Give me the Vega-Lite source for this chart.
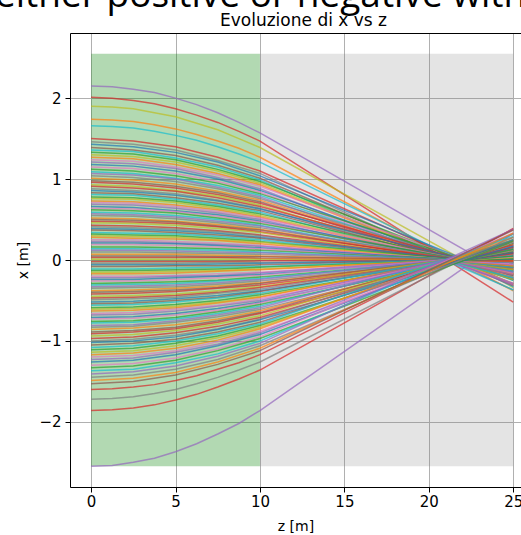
{
"$schema": "https://vega.github.io/schema/vega-lite/v6.json",
"autosize": "none",
"padding": {"left": 70, "top": 33, "right": 0, "bottom": 48},
"width": 451,
"height": 454,
"title": {"text": "either positive or negative with...", "anchor": "start", "frame": "group", "font": "Open Sans", "fontSize": 37, "fontWeight": "normal", "color": "#000000", "dx": -75, "dy": 33, "baseline": "alphabetic", "offset": 0},
"config": {
  "view": {"stroke": null},
  "title": {"color": "#000000"},
  "axis": {"labelFont": "DejaVu Sans", "labelFontSize": 15, "labelColor": "black", "tickColor": "black", "tickSize": 5, "tickWidth": 1, "domainColor": "black", "domainWidth": 1, "titleFont": "DejaVu Sans", "titleFontSize": 14, "titleFontWeight": "normal", "titleColor": "black", "gridColor": "#b0b0b0", "gridWidth": 1, "labelFlush": false}
},
"resolve": {"axis": {"x": "independent", "y": "independent"}},
"layer": [
  {
    "data": {"values": [{"z1": 0, "z2": 10, "y1": -2.55, "y2": 2.55}]},
    "mark": {"type": "rect", "color": "#008000", "opacity": 0.3},
    "encoding": {
      "x": {"field": "z1", "type": "quantitative", "scale": {"domain": [-1.25, 25.46], "nice": false, "zero": false},
            "axis": {"orient": "bottom", "values": [0, 5, 10, 15, 20, 25], "grid": true, "title": "z [m]", "labelPadding": 2, "titlePadding": 10}},
      "x2": {"field": "z2"},
      "y": {"field": "y1", "type": "quantitative", "scale": {"domain": [-2.805, 2.805], "nice": false, "zero": false}, "axis": null},
      "y2": {"field": "y2"}
    }
  },
  {
    "data": {"values": [{"z1": 10, "z2": 25, "y1": -2.55, "y2": 2.55}]},
    "mark": {"type": "rect", "color": "#808080", "opacity": 0.21},
    "encoding": {
      "x": {"field": "z1", "type": "quantitative", "scale": {"domain": [-1.25, 25.46], "nice": false, "zero": false}, "axis": null},
      "x2": {"field": "z2"},
      "y": {"field": "y1", "type": "quantitative", "scale": {"domain": [-2.805, 2.805], "nice": false, "zero": false}, "axis": null},
      "y2": {"field": "y2"}
    }
  },
  {
    "data": {"values": [
{"i":1,"c":4,"z":[0,1.25,2.5,3.75,5,6.25,7.5,8.75,10,25],"x":[2.15,2.14,2.11,2.07,2.00,1.92,1.82,1.70,1.57,-0.22]},
{"i":2,"c":3,"z":[0,1.25,2.5,3.75,5,6.25,7.5,8.75,10,25],"x":[2.01,2.00,1.97,1.93,1.87,1.79,1.70,1.59,1.47,-0.52]},
{"i":3,"c":8,"z":[0,1.25,2.5,3.75,5,6.25,7.5,8.75,10,25],"x":[1.90,1.89,1.87,1.82,1.77,1.69,1.61,1.50,1.39,-0.34]},
{"i":4,"c":1,"z":[0,1.25,2.5,3.75,5,6.25,7.5,8.75,10,25],"x":[1.74,1.73,1.71,1.67,1.62,1.55,1.47,1.38,1.27,-0.38]},
{"i":5,"c":9,"z":[0,1.25,2.5,3.75,5,6.25,7.5,8.75,10,25],"x":[1.66,1.65,1.63,1.59,1.54,1.48,1.40,1.31,1.21,-0.33]},
{"i":6,"c":4,"z":[0,1.25,2.5,3.75,5,6.25,7.5,8.75,10,25],"x":[-2.55,-2.54,-2.50,-2.45,-2.37,-2.27,-2.15,-2.02,-1.86,0.33]},
{"i":7,"c":3,"z":[0,1.25,2.5,3.75,5,6.25,7.5,8.75,10,25],"x":[-1.86,-1.85,-1.83,-1.79,-1.73,-1.66,-1.57,-1.47,-1.36,0.39]},
{"i":8,"c":7,"z":[0,1.25,2.5,3.75,5,6.25,7.5,8.75,10,25],"x":[-1.72,-1.71,-1.69,-1.65,-1.60,-1.53,-1.45,-1.36,-1.26,0.33]},
{"i":9,"c":3,"z":[0,1.25,2.5,3.75,5,6.25,7.5,8.75,10,25],"x":[-1.60,-1.59,-1.57,-1.54,-1.49,-1.43,-1.35,-1.27,-1.17,0.38]},
{"i":10,"c":3,"z":[0,2.5,5,7.5,10,25],"x":[1.50,1.47,1.40,1.27,1.10,-0.30]},
{"i":11,"c":7,"z":[0,2.5,5,7.5,10,25],"x":[1.46,1.43,1.36,1.23,1.07,-0.37]},
{"i":12,"c":0,"z":[0,2.5,5,7.5,10,25],"x":[1.43,1.40,1.33,1.21,1.04,-0.24]},
{"i":13,"c":5,"z":[0,2.5,5,7.5,10,25],"x":[1.39,1.36,1.29,1.17,1.01,-0.32]},
{"i":14,"c":9,"z":[0,2.5,5,7.5,10,25],"x":[1.36,1.34,1.26,1.15,0.99,-0.37]},
{"i":15,"c":2,"z":[0,2.5,5,7.5,10,25],"x":[1.33,1.31,1.24,1.12,0.97,-0.25]},
{"i":16,"c":8,"z":[0,2.5,5,7.5,10,25],"x":[1.30,1.28,1.21,1.10,0.95,-0.29]},
{"i":17,"c":1,"z":[0,2.5,5,7.5,10,25],"x":[1.27,1.25,1.18,1.07,0.93,-0.30]},
{"i":18,"c":6,"z":[0,2.5,5,7.5,10,25],"x":[1.24,1.22,1.15,1.05,0.91,-0.22]},
{"i":19,"c":4,"z":[0,2.5,5,7.5,10,25],"x":[1.21,1.19,1.13,1.02,0.88,-0.31]},
{"i":20,"c":0,"z":[0,2.5,5,7.5,10,25],"x":[1.18,1.16,1.10,1.00,0.86,-0.24]},
{"i":21,"c":6,"z":[0,2.5,5,7.5,10,25],"x":[1.15,1.13,1.07,0.97,0.84,-0.29]},
{"i":22,"c":2,"z":[0,2.5,5,7.5,10,25],"x":[1.12,1.10,1.04,0.95,0.82,-0.19]},
{"i":23,"c":9,"z":[0,2.5,5,7.5,10,25],"x":[1.09,1.07,1.01,0.92,0.80,-0.25]},
{"i":24,"c":4,"z":[0,2.5,5,7.5,10,25],"x":[1.07,1.05,1.00,0.90,0.78,-0.29]},
{"i":25,"c":7,"z":[0,2.5,5,7.5,10,25],"x":[1.04,1.02,0.97,0.88,0.76,-0.20]},
{"i":26,"c":1,"z":[0,2.5,5,7.5,10,25],"x":[1.01,0.99,0.94,0.85,0.74,-0.22]},
{"i":27,"c":5,"z":[0,2.5,5,7.5,10,25],"x":[0.98,0.96,0.91,0.83,0.72,-0.24]},
{"i":28,"c":3,"z":[0,2.5,5,7.5,10,25],"x":[0.96,0.94,0.89,0.81,0.70,-0.17]},
{"i":29,"c":8,"z":[0,2.5,5,7.5,10,25],"x":[0.93,0.91,0.86,0.79,0.68,-0.24]},
{"i":30,"c":3,"z":[0,2.5,5,7.5,10,25],"x":[0.91,0.89,0.85,0.77,0.66,-0.18]},
{"i":31,"c":7,"z":[0,2.5,5,7.5,10,25],"x":[0.88,0.86,0.82,0.74,0.64,-0.22]},
{"i":32,"c":0,"z":[0,2.5,5,7.5,10,25],"x":[0.86,0.84,0.80,0.73,0.63,-0.15]},
{"i":33,"c":5,"z":[0,2.5,5,7.5,10,25],"x":[0.83,0.82,0.77,0.70,0.61,-0.19]},
{"i":34,"c":9,"z":[0,2.5,5,7.5,10,25],"x":[0.81,0.80,0.75,0.68,0.59,-0.22]},
{"i":35,"c":2,"z":[0,2.5,5,7.5,10,25],"x":[0.78,0.77,0.73,0.66,0.57,-0.15]},
{"i":36,"c":8,"z":[0,2.5,5,7.5,10,25],"x":[0.76,0.75,0.71,0.64,0.55,-0.17]},
{"i":37,"c":1,"z":[0,2.5,5,7.5,10,25],"x":[0.73,0.72,0.68,0.62,0.53,-0.18]},
{"i":38,"c":6,"z":[0,2.5,5,7.5,10,25],"x":[0.71,0.70,0.66,0.60,0.52,-0.13]},
{"i":39,"c":4,"z":[0,2.5,5,7.5,10,25],"x":[0.69,0.68,0.64,0.58,0.50,-0.18]},
{"i":40,"c":0,"z":[0,2.5,5,7.5,10,25],"x":[0.66,0.65,0.61,0.56,0.48,-0.13]},
{"i":41,"c":6,"z":[0,2.5,5,7.5,10,25],"x":[0.64,0.63,0.60,0.54,0.47,-0.16]},
{"i":42,"c":2,"z":[0,2.5,5,7.5,10,25],"x":[0.62,0.61,0.58,0.52,0.45,-0.11]},
{"i":43,"c":9,"z":[0,2.5,5,7.5,10,25],"x":[0.59,0.58,0.55,0.50,0.43,-0.14]},
{"i":44,"c":4,"z":[0,2.5,5,7.5,10,25],"x":[0.57,0.56,0.53,0.48,0.42,-0.15]},
{"i":45,"c":7,"z":[0,2.5,5,7.5,10,25],"x":[0.55,0.54,0.51,0.46,0.40,-0.10]},
{"i":46,"c":1,"z":[0,2.5,5,7.5,10,25],"x":[0.52,0.51,0.48,0.44,0.38,-0.11]},
{"i":47,"c":5,"z":[0,2.5,5,7.5,10,25],"x":[0.50,0.49,0.47,0.42,0.37,-0.12]},
{"i":48,"c":3,"z":[0,2.5,5,7.5,10,25],"x":[0.48,0.47,0.45,0.41,0.35,-0.09]},
{"i":49,"c":8,"z":[0,2.5,5,7.5,10,25],"x":[0.46,0.45,0.43,0.39,0.34,-0.12]},
{"i":50,"c":3,"z":[0,2.5,5,7.5,10,25],"x":[0.43,0.42,0.40,0.36,0.31,-0.09]},
{"i":51,"c":7,"z":[0,2.5,5,7.5,10,25],"x":[0.41,0.40,0.38,0.35,0.30,-0.10]},
{"i":52,"c":0,"z":[0,2.5,5,7.5,10,25],"x":[0.39,0.38,0.36,0.33,0.28,-0.07]},
{"i":53,"c":5,"z":[0,2.5,5,7.5,10,25],"x":[0.37,0.36,0.34,0.31,0.27,-0.09]},
{"i":54,"c":9,"z":[0,2.5,5,7.5,10,25],"x":[0.34,0.33,0.32,0.29,0.25,-0.09]},
{"i":55,"c":2,"z":[0,2.5,5,7.5,10,25],"x":[0.32,0.31,0.30,0.27,0.23,-0.06]},
{"i":56,"c":8,"z":[0,2.5,5,7.5,10,25],"x":[0.30,0.29,0.28,0.25,0.22,-0.07]},
{"i":57,"c":1,"z":[0,2.5,5,7.5,10,25],"x":[0.28,0.27,0.26,0.24,0.20,-0.07]},
{"i":58,"c":6,"z":[0,2.5,5,7.5,10,25],"x":[0.25,0.25,0.23,0.21,0.18,-0.05]},
{"i":59,"c":4,"z":[0,2.5,5,7.5,10,25],"x":[0.23,0.23,0.21,0.19,0.17,-0.06]},
{"i":60,"c":0,"z":[0,2.5,5,7.5,10,25],"x":[0.21,0.21,0.20,0.18,0.15,-0.04]},
{"i":61,"c":6,"z":[0,2.5,5,7.5,10,25],"x":[0.19,0.19,0.18,0.16,0.14,-0.05]},
{"i":62,"c":2,"z":[0,2.5,5,7.5,10,25],"x":[0.16,0.16,0.15,0.14,0.12,-0.03]},
{"i":63,"c":9,"z":[0,2.5,5,7.5,10,25],"x":[0.14,0.14,0.13,0.12,0.10,-0.03]},
{"i":64,"c":4,"z":[0,2.5,5,7.5,10,25],"x":[0.12,0.12,0.11,0.10,0.09,-0.03]},
{"i":65,"c":7,"z":[0,2.5,5,7.5,10,25],"x":[0.10,0.10,0.09,0.08,0.07,-0.02]},
{"i":66,"c":1,"z":[0,2.5,5,7.5,10,25],"x":[0.07,0.07,0.07,0.06,0.05,-0.02]},
{"i":67,"c":5,"z":[0,2.5,5,7.5,10,25],"x":[0.05,0.05,0.05,0.04,0.04,-0.01]},
{"i":68,"c":3,"z":[0,2.5,5,7.5,10,25],"x":[0.03,0.03,0.03,0.03,0.02,-0.01]},
{"i":69,"c":8,"z":[0,2.5,5,7.5,10,25],"x":[0.01,0.01,0.01,0.01,0.01,0.00]},
{"i":70,"c":3,"z":[0,2.5,5,7.5,10,25],"x":[-0.02,-0.02,-0.02,-0.02,-0.01,0.00]},
{"i":71,"c":7,"z":[0,2.5,5,7.5,10,25],"x":[-0.04,-0.04,-0.04,-0.03,-0.03,0.01]},
{"i":72,"c":0,"z":[0,2.5,5,7.5,10,25],"x":[-0.06,-0.06,-0.06,-0.05,-0.04,0.01]},
{"i":73,"c":5,"z":[0,2.5,5,7.5,10,25],"x":[-0.08,-0.08,-0.07,-0.07,-0.06,0.02]},
{"i":74,"c":9,"z":[0,2.5,5,7.5,10,25],"x":[-0.11,-0.11,-0.10,-0.09,-0.08,0.03]},
{"i":75,"c":2,"z":[0,2.5,5,7.5,10,25],"x":[-0.13,-0.13,-0.12,-0.11,-0.09,0.02]},
{"i":76,"c":8,"z":[0,2.5,5,7.5,10,25],"x":[-0.15,-0.15,-0.14,-0.13,-0.11,0.03]},
{"i":77,"c":1,"z":[0,2.5,5,7.5,10,25],"x":[-0.17,-0.17,-0.16,-0.14,-0.12,0.04]},
{"i":78,"c":6,"z":[0,2.5,5,7.5,10,25],"x":[-0.20,-0.20,-0.19,-0.17,-0.15,0.04]},
{"i":79,"c":4,"z":[0,2.5,5,7.5,10,25],"x":[-0.22,-0.22,-0.20,-0.19,-0.16,0.06]},
{"i":80,"c":0,"z":[0,2.5,5,7.5,10,25],"x":[-0.24,-0.24,-0.22,-0.20,-0.18,0.05]},
{"i":81,"c":6,"z":[0,2.5,5,7.5,10,25],"x":[-0.26,-0.26,-0.24,-0.22,-0.19,0.07]},
{"i":82,"c":2,"z":[0,2.5,5,7.5,10,25],"x":[-0.29,-0.28,-0.27,-0.25,-0.21,0.05]},
{"i":83,"c":9,"z":[0,2.5,5,7.5,10,25],"x":[-0.31,-0.30,-0.29,-0.26,-0.23,0.07]},
{"i":84,"c":4,"z":[0,2.5,5,7.5,10,25],"x":[-0.33,-0.32,-0.31,-0.28,-0.24,0.09]},
{"i":85,"c":7,"z":[0,2.5,5,7.5,10,25],"x":[-0.35,-0.34,-0.33,-0.30,-0.26,0.07]},
{"i":86,"c":1,"z":[0,2.5,5,7.5,10,25],"x":[-0.38,-0.37,-0.35,-0.32,-0.28,0.08]},
{"i":87,"c":5,"z":[0,2.5,5,7.5,10,25],"x":[-0.40,-0.39,-0.37,-0.34,-0.29,0.10]},
{"i":88,"c":3,"z":[0,2.5,5,7.5,10,25],"x":[-0.42,-0.41,-0.39,-0.35,-0.31,0.08]},
{"i":89,"c":8,"z":[0,2.5,5,7.5,10,25],"x":[-0.45,-0.44,-0.42,-0.38,-0.33,0.12]},
{"i":90,"c":3,"z":[0,2.5,5,7.5,10,25],"x":[-0.47,-0.46,-0.44,-0.40,-0.34,0.09]},
{"i":91,"c":7,"z":[0,2.5,5,7.5,10,25],"x":[-0.49,-0.48,-0.46,-0.41,-0.36,0.12]},
{"i":92,"c":0,"z":[0,2.5,5,7.5,10,25],"x":[-0.52,-0.51,-0.48,-0.44,-0.38,0.09]},
{"i":93,"c":5,"z":[0,2.5,5,7.5,10,25],"x":[-0.54,-0.53,-0.50,-0.46,-0.39,0.12]},
{"i":94,"c":9,"z":[0,2.5,5,7.5,10,25],"x":[-0.56,-0.55,-0.52,-0.47,-0.41,0.15]},
{"i":95,"c":2,"z":[0,2.5,5,7.5,10,25],"x":[-0.59,-0.58,-0.55,-0.50,-0.43,0.11]},
{"i":96,"c":8,"z":[0,2.5,5,7.5,10,25],"x":[-0.61,-0.60,-0.57,-0.52,-0.45,0.13]},
{"i":97,"c":1,"z":[0,2.5,5,7.5,10,25],"x":[-0.63,-0.62,-0.59,-0.53,-0.46,0.15]},
{"i":98,"c":6,"z":[0,2.5,5,7.5,10,25],"x":[-0.66,-0.65,-0.61,-0.56,-0.48,0.12]},
{"i":99,"c":4,"z":[0,2.5,5,7.5,10,25],"x":[-0.68,-0.67,-0.63,-0.57,-0.50,0.18]},
{"i":100,"c":0,"z":[0,2.5,5,7.5,10,25],"x":[-0.71,-0.70,-0.66,-0.60,-0.52,0.14]},
{"i":101,"c":6,"z":[0,2.5,5,7.5,10,25],"x":[-0.73,-0.72,-0.68,-0.62,-0.53,0.18]},
{"i":102,"c":2,"z":[0,2.5,5,7.5,10,25],"x":[-0.76,-0.75,-0.71,-0.64,-0.55,0.13]},
{"i":103,"c":9,"z":[0,2.5,5,7.5,10,25],"x":[-0.78,-0.77,-0.73,-0.66,-0.57,0.18]},
{"i":104,"c":4,"z":[0,2.5,5,7.5,10,25],"x":[-0.81,-0.80,-0.75,-0.68,-0.59,0.22]},
{"i":105,"c":7,"z":[0,2.5,5,7.5,10,25],"x":[-0.83,-0.82,-0.77,-0.70,-0.61,0.16]},
{"i":106,"c":1,"z":[0,2.5,5,7.5,10,25],"x":[-0.86,-0.84,-0.80,-0.73,-0.63,0.19]},
{"i":107,"c":5,"z":[0,2.5,5,7.5,10,25],"x":[-0.89,-0.87,-0.83,-0.75,-0.65,0.21]},
{"i":108,"c":3,"z":[0,2.5,5,7.5,10,25],"x":[-0.91,-0.89,-0.85,-0.77,-0.66,0.16]},
{"i":109,"c":8,"z":[0,2.5,5,7.5,10,25],"x":[-0.94,-0.92,-0.87,-0.79,-0.69,0.24]},
{"i":110,"c":3,"z":[0,2.5,5,7.5,10,25],"x":[-0.97,-0.95,-0.90,-0.82,-0.71,0.19]},
{"i":111,"c":7,"z":[0,2.5,5,7.5,10,25],"x":[-1.00,-0.98,-0.93,-0.85,-0.73,0.25]},
{"i":112,"c":0,"z":[0,2.5,5,7.5,10,25],"x":[-1.02,-1.00,-0.95,-0.86,-0.74,0.17]},
{"i":113,"c":5,"z":[0,2.5,5,7.5,10,25],"x":[-1.05,-1.03,-0.98,-0.89,-0.77,0.24]},
{"i":114,"c":9,"z":[0,2.5,5,7.5,10,25],"x":[-1.08,-1.06,-1.00,-0.91,-0.79,0.29]},
{"i":115,"c":2,"z":[0,2.5,5,7.5,10,25],"x":[-1.11,-1.09,-1.03,-0.94,-0.81,0.21]},
{"i":116,"c":8,"z":[0,2.5,5,7.5,10,25],"x":[-1.14,-1.12,-1.06,-0.96,-0.83,0.25]},
{"i":117,"c":1,"z":[0,2.5,5,7.5,10,25],"x":[-1.17,-1.15,-1.09,-0.99,-0.85,0.28]},
{"i":118,"c":6,"z":[0,2.5,5,7.5,10,25],"x":[-1.20,-1.18,-1.12,-1.01,-0.88,0.22]},
{"i":119,"c":4,"z":[0,2.5,5,7.5,10,25],"x":[-1.23,-1.21,-1.14,-1.04,-0.90,0.32]},
{"i":120,"c":0,"z":[0,2.5,5,7.5,10,25],"x":[-1.26,-1.24,-1.17,-1.06,-0.92,0.25]},
{"i":121,"c":6,"z":[0,2.5,5,7.5,10,25],"x":[-1.30,-1.28,-1.21,-1.10,-0.95,0.33]},
{"i":122,"c":2,"z":[0,2.5,5,7.5,10,25],"x":[-1.33,-1.31,-1.24,-1.12,-0.97,0.23]},
{"i":123,"c":9,"z":[0,2.5,5,7.5,10,25],"x":[-1.37,-1.35,-1.27,-1.16,-1.00,0.32]},
{"i":124,"c":4,"z":[0,2.5,5,7.5,10,25],"x":[-1.41,-1.38,-1.31,-1.19,-1.03,0.38]},
{"i":125,"c":7,"z":[0,2.5,5,7.5,10,25],"x":[-1.45,-1.42,-1.35,-1.23,-1.06,0.28]},
{"i":126,"c":1,"z":[0,2.5,5,7.5,10,25],"x":[-1.49,-1.46,-1.39,-1.26,-1.09,0.33]},
{"i":127,"c":5,"z":[0,2.5,5,7.5,10,25],"x":[-1.53,-1.50,-1.42,-1.29,-1.12,0.37]}
    ]},
    "transform": [{"flatten": ["z", "x"]}],
    "mark": {"type": "line", "strokeWidth": 1.5, "opacity": 0.7, "clip": true},
    "encoding": {
      "x": {"field": "z", "type": "quantitative", "scale": {"domain": [-1.25, 25.46], "nice": false, "zero": false},
            "axis": {"orient": "top", "labels": false, "ticks": false, "grid": false, "domain": true, "title": "Evoluzione di x vs z", "titleFont": "DejaVu Sans", "titleFontSize": 17, "titleX": 233, "titleY": -8, "titleBaseline": "alphabetic", "titleAlign": "center"}},
      "y": {"field": "x", "type": "quantitative", "scale": {"domain": [-2.805, 2.805], "nice": false, "zero": false},
            "axis": {"orient": "left", "values": [-2, -1, 0, 1, 2], "grid": true, "title": "x [m]", "labelPadding": 4, "titlePadding": 8}},
      "detail": {"field": "i", "type": "nominal"},
      "color": {"field": "c", "type": "nominal", "legend": null,
                "scale": {"domain": [0, 1, 2, 3, 4, 5, 6, 7, 8, 9], "range": ["#1f77b4", "#ff7f0e", "#2ca02c", "#d62728", "#9467bd", "#8c564b", "#e377c2", "#7f7f7f", "#bcbd22", "#17becf"]}}
    }
  }
]
}
